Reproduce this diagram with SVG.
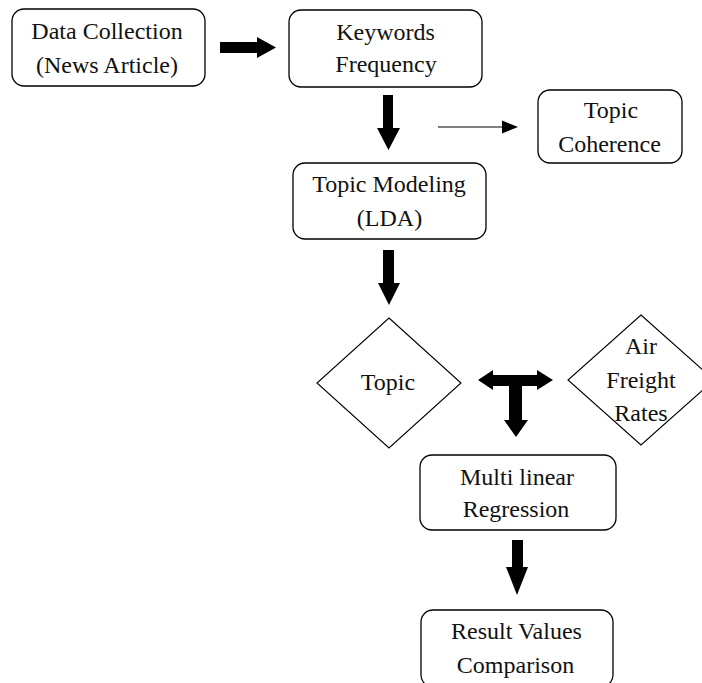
<svg xmlns="http://www.w3.org/2000/svg" width="702" height="683" viewBox="0 0 702 683">
<style>
.box{fill:#fff;stroke:#000;stroke-width:1.3}
.dia{fill:#fff;stroke:#000;stroke-width:1.1}
text{font-size:24px;fill:#111;text-anchor:middle}
.arr{fill:#000;stroke:none}
.thin{stroke:#000;stroke-width:1.2;fill:none}
</style>
<rect width="702" height="683" fill="#fff"/>
<g id="connectors">
<polygon class="arr" points="220,42 257,42 257,37 276,47.5 257,58 257,53 220,53"/>
<polygon class="arr" points="383,95 393,95 393,128 400,128 388.5,150 377,128 383,128"/>
<line class="thin" x1="438" y1="127" x2="503" y2="127"/>
<polygon class="arr" points="502,120.5 518,127 502,133.5"/>
<polygon class="arr" points="383,250 394,250 394,283 400,283 389,305 378,283 383,283"/>
<polygon class="arr" points="478,380 493,370 493,375 537,375 537,370 553,380 537,390 537,386 522,386 522,420 528,420 516,437 504,420 509,420 509,386 493,386 493,390"/>
<polygon class="arr" points="512,540 523,540 523,567 528,567 517,595 506,567 512,567"/>
</g>
<g id="data-collection" font-family="Liberation Serif">
<rect class="box" x="12" y="9" width="193" height="77" rx="12"/>
<text x="107" y="39">Data Collection</text>
<text x="107" y="73">(News Article)</text>
</g>
<g id="keywords-frequency" font-family="Liberation Serif">
<rect class="box" x="289" y="10" width="193" height="77" rx="12"/>
<text x="385.5" y="40">Keywords</text>
<text x="386" y="72">Frequency</text>
</g>
<g id="topic-coherence" font-family="Liberation Serif">
<rect class="box" x="538" y="90" width="144" height="73" rx="12"/>
<text x="611" y="118">Topic</text>
<text x="609.5" y="152">Coherence</text>
</g>
<g id="topic-modeling" font-family="Liberation Serif">
<rect class="box" x="293" y="163" width="193" height="76" rx="12"/>
<text x="389" y="192">Topic Modeling</text>
<text x="389.5" y="226">(LDA)</text>
</g>
<g id="topic" font-family="Liberation Serif">
<polygon class="dia" points="389,318 461,383 389,448 317,383"/>
<text x="388" y="390">Topic</text>
</g>
<g id="air-freight-rates" font-family="Liberation Serif">
<polygon class="dia" points="641,315 714,380 641,445 568,380"/>
<text x="641" y="354">Air</text>
<text x="641" y="388">Freight</text>
<text x="641" y="421">Rates</text>
</g>
<g id="multi-linear-regression" font-family="Liberation Serif">
<rect class="box" x="420" y="455" width="196" height="75" rx="12"/>
<text x="517" y="485">Multi linear</text>
<text x="516" y="517">Regression</text>
</g>
<g id="result-values-comparison" font-family="Liberation Serif">
<rect class="box" x="421" y="610" width="192" height="77" rx="12"/>
<text x="516.5" y="639">Result Values</text>
<text x="515.5" y="673">Comparison</text>
</g>
</svg>
